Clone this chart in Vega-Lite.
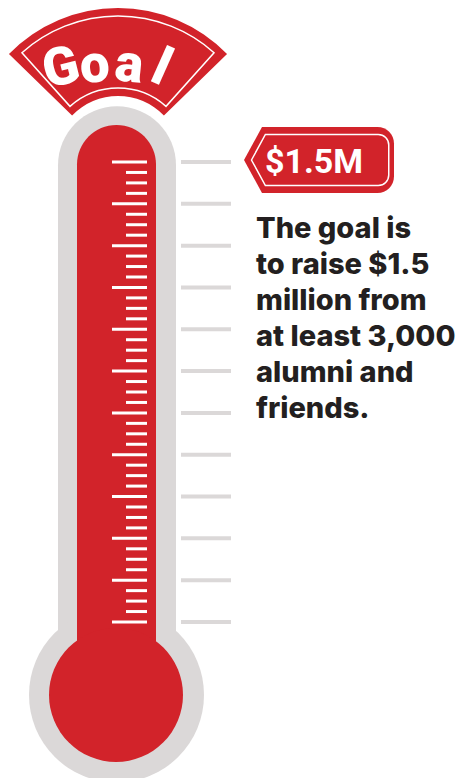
{
  "$schema": "https://vega.github.io/schema/vega-lite/v6.json",
  "width": 461,
  "height": 778,
  "padding": 0,
  "autosize": {"type": "none"},
  "background": "white",
  "config": {"view": {"stroke": null}, "axis": {"disable": true}},
  "datasets": {
    "ticks": [
      {"amount": 125, "major": true}, {"amount": 156.25, "major": false}, {"amount": 187.5, "major": false}, {"amount": 218.75, "major": false},
      {"amount": 250, "major": true}, {"amount": 281.25, "major": false}, {"amount": 312.5, "major": false}, {"amount": 343.75, "major": false},
      {"amount": 375, "major": true}, {"amount": 406.25, "major": false}, {"amount": 437.5, "major": false}, {"amount": 468.75, "major": false},
      {"amount": 500, "major": true}, {"amount": 531.25, "major": false}, {"amount": 562.5, "major": false}, {"amount": 593.75, "major": false},
      {"amount": 625, "major": true}, {"amount": 656.25, "major": false}, {"amount": 687.5, "major": false}, {"amount": 718.75, "major": false},
      {"amount": 750, "major": true}, {"amount": 781.25, "major": false}, {"amount": 812.5, "major": false}, {"amount": 843.75, "major": false},
      {"amount": 875, "major": true}, {"amount": 906.25, "major": false}, {"amount": 937.5, "major": false}, {"amount": 968.75, "major": false},
      {"amount": 1000, "major": true}, {"amount": 1031.25, "major": false}, {"amount": 1062.5, "major": false}, {"amount": 1093.75, "major": false},
      {"amount": 1125, "major": true}, {"amount": 1156.25, "major": false}, {"amount": 1187.5, "major": false}, {"amount": 1218.75, "major": false},
      {"amount": 1250, "major": true}, {"amount": 1281.25, "major": false}, {"amount": 1312.5, "major": false}, {"amount": 1343.75, "major": false},
      {"amount": 1375, "major": true}, {"amount": 1406.25, "major": false}, {"amount": 1437.5, "major": false}, {"amount": 1468.75, "major": false},
      {"amount": 1500, "major": true}
    ],
    "goalLetters": [
      {"letter": "G", "pos": 65, "amount": 1733, "rot": -14},
      {"letter": "o", "pos": 96, "amount": 1739, "rot": -5},
      {"letter": "a", "pos": 127.5, "amount": 1741, "rot": 6},
      {"letter": "l", "pos": 155, "amount": 1736, "rot": 24}
    ],
    "goal": [{"label": "$1.5M", "amount": 1500}],
    "note": [{"text": ["The goal is", "to raise $1.5", "million from", "at least 3,000", "alumni and", "friends."]}]
  },
  "layer": [
    {
      "data": {"values": [{}]},
      "mark": {"type": "rect", "color": "#DBD8D8", "cornerRadiusTopLeft": 59, "cornerRadiusTopRight": 59},
      "encoding": {
        "x": {"datum": 58, "type": "quantitative", "scale": {"domain": [0, 461], "nice": false, "zero": false}, "axis": null},
        "x2": {"datum": 176},
        "y": {"datum": 1667, "type": "quantitative", "scale": {"domain": [-341.3, 1984.24], "nice": false, "zero": false}, "axis": null},
        "y2": {"datum": -80}
      }
    },
    {
      "data": {"values": [{}]},
      "mark": {"type": "point", "shape": "circle", "filled": true, "color": "#DBD8D8", "opacity": 1, "size": 30625},
      "encoding": {
        "x": {"datum": 116.5, "type": "quantitative"},
        "y": {"datum": -93, "type": "quantitative"}
      }
    },
    {
      "data": {"values": [{}]},
      "mark": {"type": "rect", "color": "#D2232A", "cornerRadiusTopLeft": 39.5, "cornerRadiusTopRight": 39.5},
      "encoding": {
        "x": {"datum": 77, "type": "quantitative"},
        "x2": {"datum": 156},
        "y": {"datum": 1610.6, "type": "quantitative"},
        "y2": {"datum": -80}
      }
    },
    {
      "data": {"values": [{}]},
      "mark": {"type": "point", "shape": "circle", "filled": true, "color": "#D2232A", "opacity": 1, "size": 17956},
      "encoding": {
        "x": {"datum": 116, "type": "quantitative"},
        "y": {"datum": -93, "type": "quantitative"}
      }
    },
    {
      "data": {"name": "ticks"},
      "transform": [{"filter": "datum.major"}],
      "mark": {"type": "rule", "color": "white", "strokeWidth": 3},
      "encoding": {
        "x": {"datum": 112, "type": "quantitative"},
        "x2": {"datum": 147},
        "y": {"field": "amount", "type": "quantitative"}
      }
    },
    {
      "data": {"name": "ticks"},
      "transform": [{"filter": "!datum.major"}],
      "mark": {"type": "rule", "color": "white", "strokeWidth": 3},
      "encoding": {
        "x": {"datum": 126, "type": "quantitative"},
        "x2": {"datum": 147},
        "y": {"field": "amount", "type": "quantitative"}
      }
    },
    {
      "data": {"name": "ticks"},
      "transform": [{"filter": "datum.major"}],
      "mark": {"type": "rule", "color": "#DBD8D8", "strokeWidth": 4},
      "encoding": {
        "x": {"datum": 181, "type": "quantitative"},
        "x2": {"datum": 231},
        "y": {"field": "amount", "type": "quantitative"}
      }
    },
    {
      "data": {"values": [{}]},
      "mark": {"type": "arc", "color": "#D2232A", "theta": -0.8, "theta2": 0.8, "radius": 152, "radius2": 64},
      "encoding": {
        "x": {"datum": 118, "type": "quantitative"},
        "y": {"datum": 1506, "type": "quantitative"}
      }
    },
    {
      "data": {"values": [{}]},
      "mark": {"type": "arc", "filled": false, "fill": null, "stroke": "white", "strokeWidth": 1.5, "theta": -0.73, "theta2": 0.73, "radius": 144, "radius2": 72},
      "encoding": {
        "x": {"datum": 118, "type": "quantitative"},
        "y": {"datum": 1506, "type": "quantitative"}
      }
    },
    {
      "data": {"name": "goalLetters"},
      "mark": {"type": "text", "color": "white", "font": "Roboto", "fontWeight": 900, "fontSize": 53, "align": "center", "baseline": "alphabetic"},
      "encoding": {
        "x": {"field": "pos", "type": "quantitative"},
        "y": {"field": "amount", "type": "quantitative"},
        "text": {"field": "letter"},
        "angle": {"field": "rot", "type": "quantitative", "scale": null}
      }
    },
    {
      "data": {"name": "goal"},
      "mark": {"type": "point", "filled": true, "color": "#D2232A", "opacity": 1, "size": 22500, "yOffset": -2,
        "shape": "M -1 0 L -0.76 -0.44 L 0.78 -0.44 A 0.22 0.22 0 0 1 1 -0.22 L 1 0.22 A 0.22 0.22 0 0 1 0.78 0.44 L -0.76 0.44 Z"},
      "encoding": {
        "x": {"datum": 319, "type": "quantitative"},
        "y": {"field": "amount", "type": "quantitative"}
      }
    },
    {
      "data": {"name": "goal"},
      "mark": {"type": "point", "filled": false, "color": "white", "strokeWidth": 1.5, "opacity": 1, "size": 22500, "yOffset": -2,
        "shape": "M -0.9 0 L -0.715 -0.34 L 0.79 -0.34 A 0.14 0.14 0 0 1 0.93 -0.2 L 0.93 0.2 A 0.14 0.14 0 0 1 0.79 0.34 L -0.715 0.34 Z"},
      "encoding": {
        "x": {"datum": 319, "type": "quantitative"},
        "y": {"field": "amount", "type": "quantitative"}
      }
    },
    {
      "data": {"name": "goal"},
      "mark": {"type": "text", "color": "white", "font": "Roboto", "fontWeight": "bold", "fontSize": 34, "align": "center", "baseline": "alphabetic", "yOffset": 11},
      "encoding": {
        "x": {"datum": 314, "type": "quantitative"},
        "y": {"field": "amount", "type": "quantitative"},
        "text": {"field": "label"}
      }
    },
    {
      "data": {"name": "note"},
      "mark": {"type": "text", "color": "#231F20", "font": "Inter", "fontWeight": 800, "fontSize": 29, "align": "left", "baseline": "alphabetic", "lineHeight": 36},
      "encoding": {
        "x": {"datum": 256, "type": "quantitative"},
        "y": {"datum": 1272.8, "type": "quantitative"},
        "text": {"field": "text"}
      }
    }
  ]
}
